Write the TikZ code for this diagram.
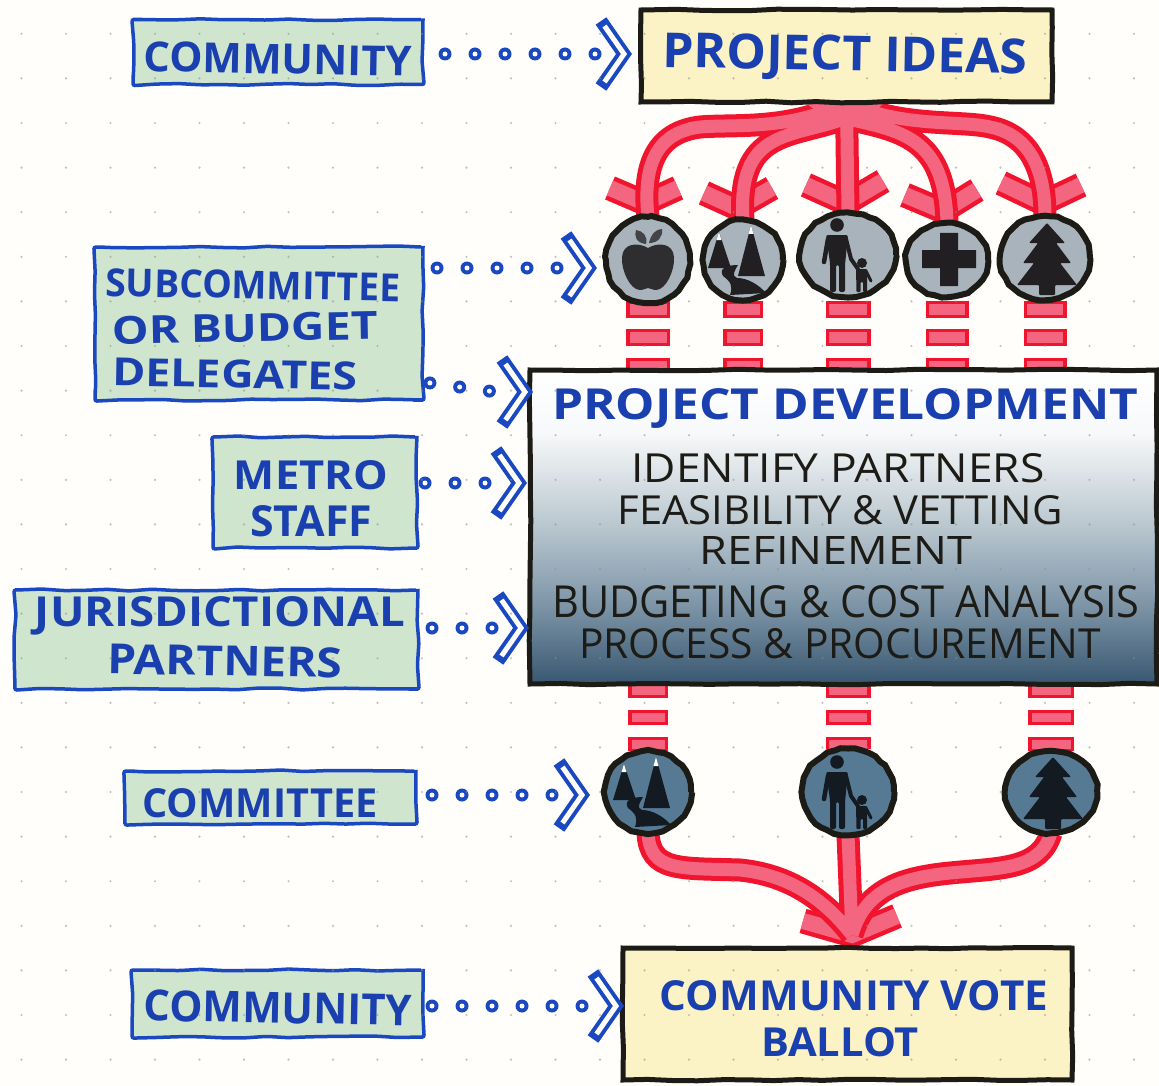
\documentclass[tikz,border=0pt]{standalone}
\usepackage{fontspec}
\setmainfont{Open Sans}
\usetikzlibrary{shapes.geometric,decorations.pathmorphing}
\pgfdeclarelayer{back}\pgfdeclarelayer{arrows}\pgfdeclarelayer{dots}\pgfdeclarelayer{top}
\pgfsetlayers{back,arrows,main,dots,top}
\definecolor{paper}{HTML}{FFFEFA}
\definecolor{griddot}{HTML}{8F8F85}
\definecolor{inkblue}{HTML}{1A48C0}
\definecolor{txtblue}{HTML}{1A3FAE}
\definecolor{sage}{HTML}{CFE5CD}
\definecolor{cream}{HTML}{FBF3C6}
\definecolor{inkblack}{HTML}{1C1B16}
\definecolor{redline}{HTML}{F0142F}
\definecolor{pinkfill}{HTML}{F4667F}
\definecolor{greydisc}{HTML}{A8B3BB}
\definecolor{bluedisc}{HTML}{567A94}
\pgfdeclareverticalshading{devshade}{100bp}{rgb(0bp)=(0.22,0.34,0.44); rgb(25bp)=(0.22,0.34,0.44); rgb(38bp)=(0.50,0.59,0.66); rgb(51bp)=(0.74,0.79,0.82); rgb(65bp)=(0.97,0.975,0.98); rgb(75bp)=(1,1,1); rgb(100bp)=(1,1,1)}
\tikzset{
  greenbox/.style={draw=inkblue,line width=3.5pt,fill=sage,inner sep=0pt,outer sep=0pt,decorate,decoration={random steps,segment length=22pt,amplitude=1pt},rounded corners=2pt},
  creambox/.style={draw=inkblack,line width=5pt,fill=cream,inner sep=0pt,outer sep=0pt,decorate,decoration={random steps,segment length=25pt,amplitude=.8pt}},
  devbox/.style={draw=inkblack,line width=5pt,shading=devshade,inner sep=0pt,outer sep=0pt,decorate,decoration={random steps,segment length=30pt,amplitude=.8pt}},
  disc/.style={ellipse,draw=inkblack,line width=6pt,inner sep=0pt,outer sep=0pt,decorate,decoration={random steps,segment length=7pt,amplitude=.8pt}},
  lbl/.style={inner sep=0pt,outer sep=0pt,text=txtblue,font=\bfseries},
  blk/.style={inner sep=0pt,outer sep=0pt,text=inkblack},
  dotconn/.style={preaction={draw=inkblue,line width=13pt,line cap=round,dash pattern=on 0pt off 30pt,dash phase=#1},draw=paper,line width=5pt,line cap=round,dash pattern=on 0pt off 30pt,dash phase=#1},
  chevpic/.pic={
    \draw[inkblue,line width=13pt,miter limit=10] (0,-33) -- (23,0) -- (0,33);
    \draw[paper,line width=5pt,miter limit=10] (3.5,-28) -- (23,0) -- (3.5,28);
  },
  stemred/.style={draw=redline,line width=23pt},
  stempink/.style={draw=pinkfill,line width=13pt},
  chevred/.style={draw=redline,line width=25pt,miter limit=10},
  chevpink/.style={draw=pinkfill,line width=16pt,miter limit=10},
  applepic/.pic={
    \fill[ink!90!greydisc] (0,-12) .. controls (10,-18) and (25,-17) .. (26,-3) .. controls (27,10) and (18,30) .. (8,30) .. controls (4,30) and (2,28) .. (0,28) .. controls (-2,28) and (-4,30) .. (-8,30) .. controls (-18,30) and (-27,10) .. (-26,-3) .. controls (-25,-17) and (-10,-18) .. (0,-12) -- cycle;
    \fill[ink!75!greydisc] (-2,-16) .. controls (-12,-17) and (-14,-24) .. (-12,-30) .. controls (-5,-29) and (0,-24) .. (-2,-16) -- cycle;
    \fill[ink!75!greydisc] (1,-17) .. controls (3,-26) and (8,-31) .. (14,-31) .. controls (15,-23) and (10,-17) .. (1,-17) -- cycle;
  },
  peakspic/.pic={
    \fill[ink] (-24,-28) -- (-12,8) -- (-35,8) -- cycle;
    \fill[ink] (8,-35) -- (22,16) -- (-5,16) -- cycle;
    \fill[white] (-24,-28) -- (-21.5,-20) -- (-26.5,-20) -- cycle;
    \fill[white] (8,-35) -- (10.5,-26) -- (5.5,-26) -- cycle;
    \fill[ink] (-20,16) .. controls (-12,22) and (-10,26) .. (-13,35) -- (23,33) .. controls (16,25) and (5,18) .. (-6,18) .. controls (-12,16) and (-8,10) .. (-5,5) .. controls (-15,5) and (-25,8) .. (-20,16) -- cycle;
  },
  familypic/.pic={
    \fill[ink] (-11,-30) circle (6.8pt);
    \fill[ink,rounded corners=2pt] (-22,-20) -- (0,-20) -- (-3,10) -- (-3,37) -- (-9,37) -- (-9,10) -- (-12,10) -- (-12,37) -- (-18,37) -- (-18,8) -- cycle;
    \draw[ink,line width=4.5pt,line cap=round,line join=round] (-20,-16) -- (-24,7);
    \draw[ink,line width=4pt,line cap=round,line join=round] (-2,-16) -- (3,4) -- (10,14);
    \fill[ink] (14,8) circle (5pt);
    \fill[ink,rounded corners=1pt] (8,14) -- (19,14) -- (19,37) -- (15,37) -- (15,27) -- (12.5,27) -- (12.5,37) -- (8.5,37) -- cycle;
    \draw[ink,line width=3pt,line cap=round] (18,16) -- (23,26);
  },
  crosspic/.pic={
    \fill[ink] (-7,-27) -- (11,-27) -- (11,-10) -- (29,-10) -- (29,8) -- (11,8) -- (11,26) -- (-7,26) -- (-7,8) -- (-25,8) -- (-25,-10) -- (-7,-10) -- cycle;
  },
  treepic/.pic={
    \fill[ink,rounded corners=1pt] (2,-35) -- (20,-15) -- (11,-15) -- (26,5) -- (15,5) -- (32,27) -- (10,27) -- (10,37) -- (-6,37) -- (-6,27) -- (-28,27) -- (-11,5) -- (-22,5) -- (-7,-15) -- (-16,-15) -- cycle;
  },
}
\newcommand{\fitbox}[3]{\resizebox{#1pt}{#2pt}{#3}}
\newcommand{\stempaths}{
  (ideas.south) .. controls (790,131) and (735,124) .. (700,127) .. controls (660,132) and (642,160) .. (i1.north)
  (ideas.south) ++(-6,18) .. controls (790,138) and (737,130) .. (i2.north)
  (ideas.south) -- (i3.north)
  (ideas.south) ++(6,18) .. controls (905,132) and (945,140) .. (i4.north)
  (ideas.south) .. controls (900,128) and (960,120) .. (990,127) .. controls (1030,135) and (1045,170) .. (i5.north)
  (i6.south) .. controls (650,872) and (680,868) .. (740,870) .. controls (790,875) and (825,900) .. (merge)
  (i8.south) .. controls (1040,870) and (1000,868) .. (950,873) .. controls (900,878) and (865,890) .. (merge)
  (i7.south) -- (merge)
}
\newcommand{\chevpaths}{
  (610,188) -- (645,203) -- (678,188)
  (704,193) -- (737,208) -- (772,188)
  (806,185) -- (846,203) -- (883,181)
  (905,195) -- (943,211) -- (977,190)
  (1001,183) -- (1043,203) -- (1081,185)
  (803,921) -- (852,935) -- (897,916)
}
\begin{document}
\begin{tikzpicture}[x=1pt,y=-1pt]
\pgfmathsetseed{7}
\useasboundingbox (0,0) rectangle (1159,1086);
\begin{pgfonlayer}{back}
  \fill[paper] (0,0) rectangle (1159,1086);
\end{pgfonlayer}

% boxes
\node[greenbox,minimum width=290pt,minimum height=65pt] (comA) at (278,52) {};
\node[creambox,minimum width=411pt,minimum height=92pt] (ideas) at (846.5,56) {};
\node[greenbox,minimum width=328pt,minimum height=153pt] (sub) at (259,323.5) {};
\node[greenbox,minimum width=204pt,minimum height=111pt] (metro) at (315,492.5) {};
\node[greenbox,minimum width=403pt,minimum height=99pt] (juris) at (216.5,639.5) {};
\node[greenbox,minimum width=291pt,minimum height=53pt] (cmte) at (270.5,797.5) {};
\node[greenbox,minimum width=291pt,minimum height=67pt] (comB) at (277.5,1003.5) {};
\node[creambox,minimum width=449pt,minimum height=132pt] (vote) at (847.5,1014) {};
\node[devbox,minimum width=627pt,minimum height=314pt] (dev) at (843.5,527) {};

% grid of dots
\begin{pgfonlayer}{dots}
  \foreach \i in {-14,...,13}
    \foreach \j in {-3,...,22}
      \fill[griddot,opacity=.55] ({600+44.5*\i},{123+44.6*\j}) circle (1.2pt);
\end{pgfonlayer}

% discs and icons
\begin{pgfonlayer}{top}
  \node[disc,fill=greydisc,minimum width=84pt,minimum height=86pt] (i1) at (648,260) {};
  \node[disc,fill=greydisc,minimum width=80pt,minimum height=80pt] (i2) at (743,260) {};
  \node[disc,fill=greydisc,minimum width=96pt,minimum height=84pt] (i3) at (848,255) {};
  \node[disc,fill=greydisc,minimum width=82pt,minimum height=74pt] (i4) at (947,260) {};
  \node[disc,fill=greydisc,minimum width=90pt,minimum height=84pt] (i5) at (1045,258) {};
  \node[disc,fill=bluedisc,minimum width=86pt,minimum height=82pt] (i6) at (648,792) {};
  \node[disc,fill=bluedisc,minimum width=92pt,minimum height=86pt] (i7) at (848,792) {};
  \node[disc,fill=bluedisc,minimum width=92pt,minimum height=82pt] (i8) at (1051,792) {};
  \begin{scope}
    \definecolor{ink}{HTML}{211F22}
    \pic at (i1) {applepic};
    \pic at (i2) {peakspic};
    \pic at (i3) {familypic};
    \pic at (i4) {crosspic};
    \pic at (i5) {treepic};
  \end{scope}
  \begin{scope}
    \definecolor{ink}{HTML}{131A22}
    \pic at (i6) {peakspic};
    \pic at (i7) {familypic};
    \pic at (i8) {treepic};
  \end{scope}

  % labels
  \node[lbl,rotate=-1] (tA) at (278,59) {\fitbox{268}{30}{COMMUNITY}};
  \node[lbl,rotate=-1] (tB) at (845,58) {\fitbox{365}{35}{PROJECT IDEAS}};
  \node[lbl,rotate=-1] (tC1) at (253,285) {\fitbox{295}{28}{SUBCOMMITTEE}};
  \node[lbl,rotate=1] (tC2) at (245,328) {\fitbox{266}{28}{OR BUDGET}};
  \node[lbl,rotate=-1] (tC3) at (235,374) {\fitbox{245}{28}{DELEGATES}};
  \node[lbl] (tD1) at (311,475) {\fitbox{154}{29}{METRO}};
  \node[lbl] (tD2) at (311,521) {\fitbox{122}{31}{STAFF}};
  \node[lbl] (tE1) at (220,616) {\fitbox{370}{30}{JURISDICTIONAL}};
  \node[lbl,rotate=-1] (tE2) at (225,661) {\fitbox{235}{30}{PARTNERS}};
  \node[lbl] (tF) at (260,803) {\fitbox{235}{29}{COMMITTEE}};
  \node[lbl,rotate=-1] (tG) at (278,1008) {\fitbox{268}{31}{COMMUNITY}};
  \node[lbl] (tH1) at (854,996) {\fitbox{388}{30}{COMMUNITY VOTE}};
  \node[lbl] (tH2) at (840,1042) {\fitbox{158}{29}{BALLOT}};
  \node[lbl] (tJ0) at (845,408) {\fitbox{586}{31}{PROJECT DEVELOPMENT}};
  \node[blk] (tJ1) at (838,468) {\fitbox{413}{29}{IDENTIFY PARTNERS}};
  \node[blk] (tJ2) at (840,510) {\fitbox{445}{29}{FEASIBILITY \& VETTING}};
  \node[blk] (tJ3) at (836,550) {\fitbox{272}{28}{REFINEMENT}};
  \node[blk] (tJ4) at (846,602) {\fitbox{587}{32}{BUDGETING \& COST ANALYSIS}};
  \node[blk] (tJ5) at (840,644) {\fitbox{522}{30}{PROCESS \& PROCUREMENT}};
\end{pgfonlayer}

% red connectors
\coordinate (merge) at (852,935);
\coordinate (upr) at (0,272);
\coordinate (lwr) at (0,656);
\begin{pgfonlayer}{arrows}
  \foreach \n/\w in {i1/44,i2/40,i3/45,i4/43,i5/43}{
    \draw[redline,line width=\w pt,dash pattern=on 17pt off 11.5pt] (\n |- upr) -- (\n |- dev.north);
    \draw[pinkfill,line width={(\w-7)*1pt},dash pattern=on 11pt off 17.5pt,dash phase=25.5pt] (\n |- upr) -- (\n |- dev.north);
  }
  \foreach \n/\w in {i6/40,i7/45,i8/46}{
    \draw[redline,line width=\w pt,dash pattern=on 15pt off 12pt] (\n |- lwr) -- (\n);
    \draw[pinkfill,line width={(\w-7)*1pt},dash pattern=on 9pt off 18pt,dash phase=24pt] (\n |- lwr) -- (\n);
  }
  \draw[chevred] \chevpaths;
  \draw[chevpink] \chevpaths;
  \draw[stemred] \stempaths;
  \draw[stempink] \stempaths;
  \fill[pinkfill] (806,103) -- (884,103) -- (858,127) -- (836,127) -- cycle;
\end{pgfonlayer}

% blue dotted connectors
\coordinate (e1) at (598,54);
\coordinate (e2) at (560,268);
\coordinate (s3) at (sub.east |- 0,382);
\coordinate (e3) at (496,392);
\coordinate (e4) at (488,483);
\coordinate (e5) at (495,628);
\coordinate (e6) at (555,795);
\coordinate (e7) at (585,1006);
\draw[dotconn=8pt] (comA.east |- e1) -- (e1);
\draw[dotconn=16pt] (sub.east |- e2) -- (e2);
\draw[dotconn=23pt] (s3) -- (e3);
\draw[dotconn=22pt] (metro.east |- e4) -- (e4);
\draw[dotconn=16pt] (juris.east |- e5) -- (e5);
\draw[dotconn=14pt] (cmte.east |- e6) -- (e6);
\draw[dotconn=21pt] (comB.east |- e7) -- (e7);
\pic at (601,54) {chevpic};
\pic at (566,268) {chevpic};
\pic at (502,392) {chevpic};
\pic at (496,483) {chevpic};
\pic at (498,628) {chevpic};
\pic at (559,795) {chevpic};
\pic at (593,1006) {chevpic};
\end{tikzpicture}
\end{document}
